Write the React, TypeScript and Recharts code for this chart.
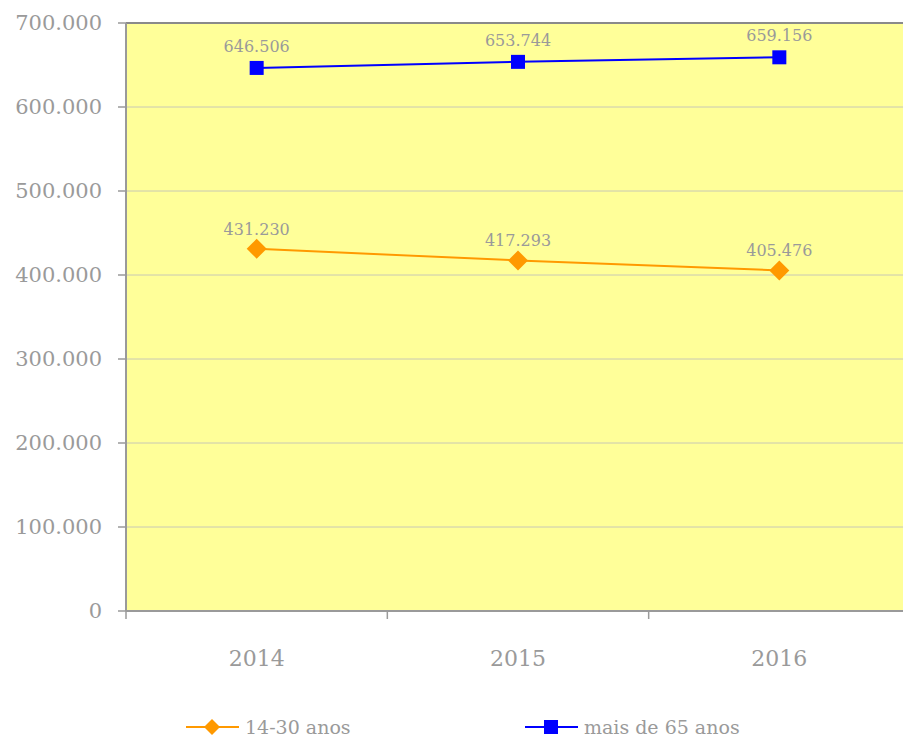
import React from 'react';
import { LineChart, Line, XAxis, YAxis, CartesianGrid, ReferenceLine, LabelList, Legend } from 'recharts';

const years = ['2014', '2015', '2016'];
const jovens = [431230, 417293, 405476];
const idosos = [646506, 653744, 659156];
const yTicks = [0, 100000, 200000, 300000, 400000, 500000, 600000, 700000];
const seriesNames = ['14-30 anos', 'mais de 65 anos'];
const seriesColors = ['#FF9900', '#0000FF'];

const data = years.map((y, i) => ({ year: y, jovens: jovens[i], idosos: idosos[i] }));

const FONT = '"DejaVu Serif", serif';
const GRAY = '#9a9a9a';
const fmt = (v: number) => String(v).replace(/\B(?=(\d{3})+(?!\d))/g, '.');

const TICK_SIZE = 8;
const TICK_MARGIN = 31;

const Diamond = (props: any) => {
  const { cx, cy } = props;
  if (cx == null || cy == null) return null;
  return <path d={`M${cx},${cy - 10}L${cx + 10},${cy}L${cx},${cy + 10}L${cx - 10},${cy}Z`} fill={seriesColors[0]} />;
};
const Square = (props: any) => {
  const { cx, cy } = props;
  if (cx == null || cy == null) return null;
  return <rect x={cx - 7} y={cy - 7} width={14} height={14} fill={seriesColors[1]} />;
};

const XTick = (props: any) => {
  const { x, y, payload } = props;
  const half = payload && payload.offset != null ? payload.offset : 0;
  const axisY = y - TICK_SIZE - TICK_MARGIN;
  return (
    <g>
      <line x1={x - half} x2={x - half} y1={axisY} y2={axisY + TICK_SIZE} stroke={GRAY} strokeWidth={1.5} />
      <text x={x} y={y} dy="0.71em" textAnchor="middle" fill={GRAY} fontSize={22} fontFamily={FONT}>
        {payload.value}
      </text>
    </g>
  );
};

const LegendContent = (props: any) => {
  const items = props.payload || [];
  return (
    <div style={{ display: 'flex', alignItems: 'center', height: 22, lineHeight: '20px', paddingLeft: 186, fontFamily: FONT }}>
      {items.map((it: any, i: number) => (
        <div key={i} style={{ display: 'flex', alignItems: 'center', width: i === 0 ? 339 : 300 }}>
          <svg width={54} height={20} style={{ marginRight: 5 }}>
            <line x1={0} x2={53} y1={10} y2={10} stroke={it.color} strokeWidth={2} />
            {i === 0 ? (
              <path d="M26,2L34,10L26,18L18,10Z" fill={it.color} />
            ) : (
              <rect x={19} y={3} width={14} height={14} fill={it.color} />
            )}
          </svg>
          <span style={{ color: GRAY, fontSize: 19 }}>{it.value}</span>
        </div>
      ))}
    </div>
  );
};

export default function App() {
  return (
    <div style={{ position: 'absolute', left: 0, top: 0, width: 903, height: 737, overflow: 'hidden', background: '#fff' }}>
      <LineChart width={910} height={737} data={data} margin={{ top: 23, right: 0, left: 1, bottom: 34 }}>
        <CartesianGrid vertical={false} fill="#FFFF99" stroke="#c8c8b4" strokeWidth={1} />
        <XAxis
          dataKey="year"
          scale="band"
          height={70}
          axisLine={{ stroke: GRAY, strokeWidth: 2 }}
          tickLine={false}
          tickSize={TICK_SIZE}
          tickMargin={TICK_MARGIN}
          tick={<XTick />}
          interval={0}
        />
        <YAxis
          width={125}
          domain={[0, 700000]}
          ticks={yTicks}
          tickFormatter={fmt}
          axisLine={{ stroke: GRAY, strokeWidth: 2 }}
          tickLine={{ stroke: GRAY, strokeWidth: 1.5 }}
          tickSize={8}
          tickMargin={16}
          tick={{ fill: GRAY, fontSize: 21, fontFamily: FONT }}
          allowDataOverflow
        />
        <ReferenceLine y={700000} stroke="#8a8a8a" strokeWidth={2} />
        <Legend
          content={<LegendContent />}
          verticalAlign="bottom"
          wrapperStyle={{ top: 716, bottom: 'auto', left: 0, width: 910 }}
        />
        <Line
          type="linear"
          dataKey="jovens"
          name={seriesNames[0]}
          stroke={seriesColors[0]}
          strokeWidth={2}
          dot={<Diamond />}
          activeDot={false}
          isAnimationActive={false}
        >
          <LabelList dataKey="jovens" position="top" offset={14} formatter={(v: any) => fmt(v)} fill={GRAY} fontSize={16} fontFamily={FONT} />
        </Line>
        <Line
          type="linear"
          dataKey="idosos"
          name={seriesNames[1]}
          stroke={seriesColors[1]}
          strokeWidth={2}
          dot={<Square />}
          activeDot={false}
          isAnimationActive={false}
        >
          <LabelList dataKey="idosos" position="top" offset={16} formatter={(v: any) => fmt(v)} fill={GRAY} fontSize={16} fontFamily={FONT} />
        </Line>
      </LineChart>
    </div>
  );
}
